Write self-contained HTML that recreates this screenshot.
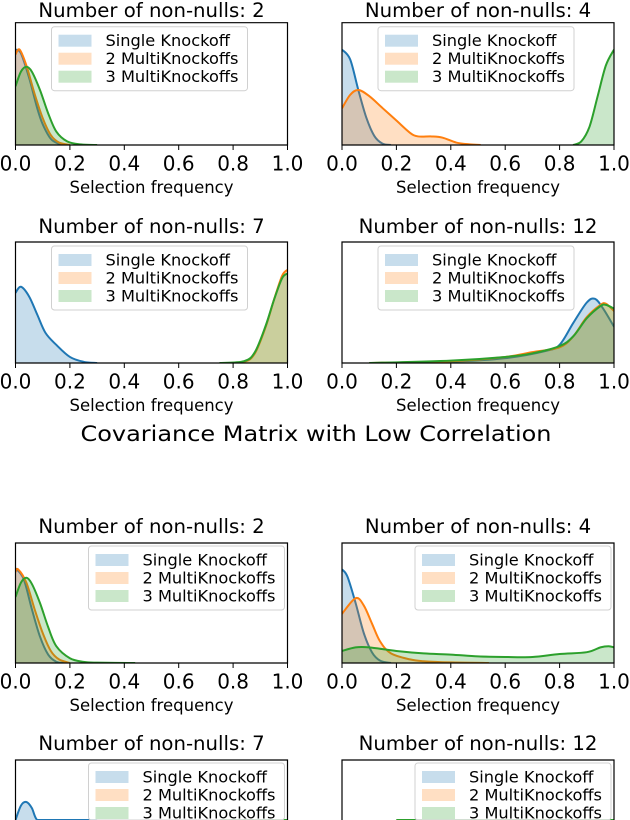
<!DOCTYPE html>
<html><head><meta charset="utf-8">
<style>
html,body{margin:0;padding:0;background:#fff;width:630px;height:820px;overflow:hidden;}
svg{display:block;overflow:hidden;font-family:"DejaVu Sans","Liberation Sans",sans-serif;}
</style></head>
<body>
<svg id="fig" width="630" height="820" viewBox="0 0 630 820" xmlns="http://www.w3.org/2000/svg">
<text x="316" y="441" font-size="21" text-anchor="middle" textLength="471" lengthAdjust="spacingAndGlyphs" fill="#000">Covariance Matrix with Low Correlation</text>
</svg>
<script>
// ---- data ----
const seriesNames = ["Single Knockoff", "2 MultiKnockoffs", "3 MultiKnockoffs"];
const panelTitles = ["Number of non-nulls: 2","Number of non-nulls: 4","Number of non-nulls: 7","Number of non-nulls: 12",
                     "Number of non-nulls: 2","Number of non-nulls: 4","Number of non-nulls: 7","Number of non-nulls: 12"];
const tickValues = [0, 0.2, 0.4, 0.6, 0.8, 1.0];
const tickLabels = ["0.0","0.2","0.4","0.6","0.8","1.0"];

// density values (fraction of axis height) at given selection frequencies
const aBlueX = [0,0.02,0.05,0.08,0.1,0.13,0.16,0.18];
const aBlueY = [0.78,0.75,0.55,0.3,0.17,0.05,0.01,0];
const aOrX = [0,0.015,0.04,0.07,0.1,0.13,0.16,0.2];
const aOrY = [0.74,0.78,0.65,0.42,0.22,0.08,0.02,0];
const aGrX = [0,0.02,0.04,0.06,0.09,0.12,0.15,0.19,0.24,0.3];
const aGrY = [0.48,0.6,0.64,0.6,0.45,0.26,0.11,0.03,0.005,0];

const bBlueX = [0,0.03,0.06,0.09,0.12,0.15,0.18];
const bBlueY = [0.78,0.7,0.45,0.22,0.07,0.01,0];
const bOrX = [0,0.03,0.06,0.1,0.15,0.2,0.25,0.28,0.33,0.37,0.42,0.47,0.51];
const bOrY = [0.3,0.41,0.45,0.4,0.3,0.2,0.1,0.07,0.07,0.06,0.02,0.005,0];
const bGrX = [0.85,0.88,0.91,0.94,0.97,1.0];
const bGrY = [0,0.03,0.15,0.4,0.65,0.78];

const cBlueX = [0,0.02,0.05,0.08,0.11,0.15,0.2,0.25,0.3];
const cBlueY = [0.58,0.63,0.55,0.4,0.25,0.15,0.05,0.01,0];
const cOrX = [0.76,0.84,0.88,0.92,0.95,0.98,1.0];
const cOrY = [0,0.01,0.08,0.3,0.52,0.72,0.77];
const cGrX = [0.75,0.84,0.88,0.92,0.95,0.98,1.0];
const cGrY = [0,0.015,0.09,0.31,0.52,0.7,0.74];

const dBlueX = [0.15,0.4,0.6,0.75,0.8,0.85,0.9,0.93,0.96,1.0];
const dBlueY = [0,0.01,0.04,0.1,0.15,0.33,0.5,0.53,0.45,0.3];
const dOrX = [0.1,0.4,0.6,0.7,0.8,0.85,0.9,0.95,0.97,1.0];
const dOrY = [0,0.015,0.05,0.09,0.13,0.22,0.38,0.48,0.49,0.43];
const dGrX = [0.1,0.4,0.6,0.7,0.8,0.85,0.9,0.95,0.97,1.0];
const dGrY = [0,0.02,0.05,0.08,0.14,0.22,0.37,0.47,0.48,0.45];

const eBlueX = [0,0.03,0.06,0.09,0.12,0.15,0.18];
const eBlueY = [0.79,0.7,0.45,0.22,0.07,0.01,0];
const eOrX = [0,0.01,0.04,0.07,0.1,0.13,0.16,0.2];
const eOrY = [0.76,0.78,0.67,0.45,0.25,0.1,0.03,0];
const eGrX = [0,0.02,0.04,0.06,0.09,0.12,0.15,0.2,0.25,0.3,0.44];
const eGrY = [0.55,0.67,0.71,0.66,0.5,0.3,0.14,0.04,0.01,0.003,0];

const fBlueX = [0,0.02,0.05,0.08,0.11,0.14,0.18];
const fBlueY = [0.78,0.72,0.5,0.25,0.09,0.02,0];
const fOrX = [0,0.05,0.08,0.11,0.14,0.18,0.25,0.3,0.4,0.54];
const fOrY = [0.41,0.54,0.48,0.33,0.18,0.08,0.03,0.015,0.005,0];
const fGrX = [0,0.05,0.1,0.2,0.3,0.4,0.5,0.6,0.7,0.8,0.9,0.95,0.98,1.0];
const fGrY = [0.1,0.13,0.13,0.1,0.08,0.07,0.055,0.05,0.05,0.075,0.09,0.13,0.14,0.13];

const gBlueX = [0,0.02,0.04,0.06,0.08,0.12,0.16,0.2,0.25,0.3];
const gBlueY = [0.5,0.62,0.65,0.6,0.5,0.3,0.15,0.06,0.01,0];
const gOrX = [0.75,0.85,0.9,0.95,1.0];
const gOrY = [0,0.05,0.2,0.38,0.45];
const gGrX = [0.75,0.85,0.9,0.95,1.0];
const gGrY = [0,0.05,0.19,0.37,0.44];

const hBlueX = [0.2,0.6,0.8,0.9,0.95,1.0];
const hBlueY = [0,0.04,0.15,0.4,0.45,0.35];
const hOrX = [0.2,0.6,0.8,0.9,0.95,1.0];
const hOrY = [0,0.05,0.13,0.35,0.42,0.4];
const hGrX = [0.2,0.6,0.8,0.9,0.95,1.0];
const hGrY = [0,0.05,0.13,0.34,0.41,0.4];

const panelSeries = [
  [[aBlueX,aBlueY],[aOrX,aOrY],[aGrX,aGrY]],
  [[bBlueX,bBlueY],[bOrX,bOrY],[bGrX,bGrY]],
  [[cBlueX,cBlueY],[cOrX,cOrY],[cGrX,cGrY]],
  [[dBlueX,dBlueY],[dOrX,dOrY],[dGrX,dGrY]],
  [[eBlueX,eBlueY],[eOrX,eOrY],[eGrX,eGrY]],
  [[fBlueX,fBlueY],[fOrX,fOrY],[fGrX,fGrY]],
  [[gBlueX,gBlueY],[gOrX,gOrY],[gGrX,gGrY]],
  [[hBlueX,hBlueY],[hOrX,hOrY],[hGrX,hGrY]]
];

// ---- layout ----
const H = 820;
const colors = ["#1f77b4","#ff7f0e","#2ca02c"];
const layout = [
  {x0:15.5,x1:287.5,top:22.7,bot:145,tb:17,leg:"center"},
  {x0:342,x1:614,top:22.7,bot:145,tb:17,leg:"center"},
  {x0:15.5,x1:287.5,top:242,bot:363,tb:233,leg:"center"},
  {x0:342,x1:614,top:242,bot:363,tb:233,leg:"center"},
  {x0:15.5,x1:287.5,top:543,bot:663,tb:533,leg:"right"},
  {x0:342,x1:614,top:543,bot:663,tb:533,leg:"right"},
  {x0:15.5,x1:287.5,top:760,bot:880,tb:750,leg:"right"},
  {x0:342,x1:614,top:760,bot:880,tb:750,leg:"right"}
];
const NS = "http://www.w3.org/2000/svg";
const svg = document.getElementById("fig");
function mk(tag, attrs, parent){
  const e = document.createElementNS(NS, tag);
  for (const k in attrs) e.setAttribute(k, attrs[k]);
  (parent||svg).appendChild(e);
  return e;
}
function smooth(pts){
  let d = "M"+pts[0][0].toFixed(2)+","+pts[0][1].toFixed(2);
  for (let i=0;i<pts.length-1;i++){
    const p0=pts[Math.max(0,i-1)], p1=pts[i], p2=pts[i+1], p3=pts[Math.min(pts.length-1,i+2)];
    const c1=[p1[0]+(p2[0]-p0[0])/6, Math.min(H, p1[1]+(p2[1]-p0[1])/6)];
    const c2=[p2[0]-(p3[0]-p1[0])/6, Math.min(H, p2[1]-(p3[1]-p1[1])/6)];
    d += " C"+c1[0].toFixed(2)+","+c1[1].toFixed(2)+" "+c2[0].toFixed(2)+","+c2[1].toFixed(2)+" "+p2[0].toFixed(2)+","+p2[1].toFixed(2);
  }
  return d;
}
const defs = mk("defs",{});
layout.forEach((L, pi) => {
  const sx = v => L.x0 + v*(L.x1-L.x0);
  const sy = v => Math.min(H, L.bot - v*(L.bot-L.top));
  const vb = Math.min(H, L.bot);
  const g = mk("g",{});
  
  
  const cp = mk("clipPath",{id:"clip"+pi}, defs);
  mk("rect",{x:L.x0,y:L.top,width:L.x1-L.x0,height:vb-L.top}, cp);
  const title = mk("text",{x:(L.x0+L.x1)/2,y:L.tb,"font-size":"19.7","text-anchor":"middle",fill:"#000"}, g);
  title.textContent = panelTitles[pi];
  
  
  const plot = mk("g",{"clip-path":"url(#clip"+pi+")"}, g);
  panelSeries[pi].forEach((s, si) => {
    const pts = s[0].map((xv, k) => [sx(xv), sy(s[1][k])]);
    const line = smooth(pts);
    const area = mk("path",{d: line+" L"+pts[pts.length-1][0].toFixed(2)+","+vb+" L"+pts[0][0].toFixed(2)+","+vb+" Z", fill:colors[si], "fill-opacity":"0.25", stroke:"none"}, plot);
    
    
    const ln = mk("path",{d: line, fill:"none", stroke:colors[si], "stroke-width":"2"}, plot);
    
    
  });
  let fd = "M"+L.x0+","+vb+" L"+L.x0+","+L.top+" L"+L.x1+","+L.top+" L"+L.x1+","+vb;
  if (L.bot <= H) fd += " Z";
  const frame = mk("path",{d:fd,fill:"none",stroke:"#000","stroke-width":"1.2"}, g);
  
  
  if (L.bot + 50 <= H) {
    tickValues.forEach((tv, ti) => {
      const x = sx(tv);
      const tk = mk("line",{x1:x,x2:x,y1:L.bot,y2:L.bot+5,stroke:"#000","stroke-width":"1"}, g);
      
      
      const tl = mk("text",{x:x,y:L.bot+25.5,"font-size":"20","text-anchor":"middle",fill:"#000"}, g);
      tl.textContent = tickLabels[ti];
      
      
    });
    const xl = mk("text",{x:(L.x0+L.x1)/2,y:L.bot+48,"font-size":"16.5","text-anchor":"middle",fill:"#000"}, g);
    xl.textContent = "Selection frequency";
    
    
  }
  // legend
  const lx = L.leg === "center" ? L.x0+36 : L.x1-199;
  const ly = L.top + (L.leg === "center" ? 4 : 3);
  const lg = mk("g",{}, g);
  
  
  mk("rect",{x:lx,y:ly,width:196,height:Math.min(64, H-ly),rx:3,fill:"#fff","fill-opacity":"0.8",stroke:"#d0d0d0","stroke-width":"1"}, lg);
  seriesNames.forEach((nm, si) => {
    const cy = ly + 14 + si*18;
    const e = mk("g",{}, lg);
    
    
    mk("rect",{x:lx+7,y:cy-6,width:33,height:Math.min(12, H-(cy-6)),fill:colors[si],"fill-opacity":"0.25"}, e);
    const t = mk("text",{x:lx+54,y:cy+5.5,"font-size":"16.2",fill:"#000"}, e);
    t.textContent = nm;
  });
});
</script>
</body></html>
